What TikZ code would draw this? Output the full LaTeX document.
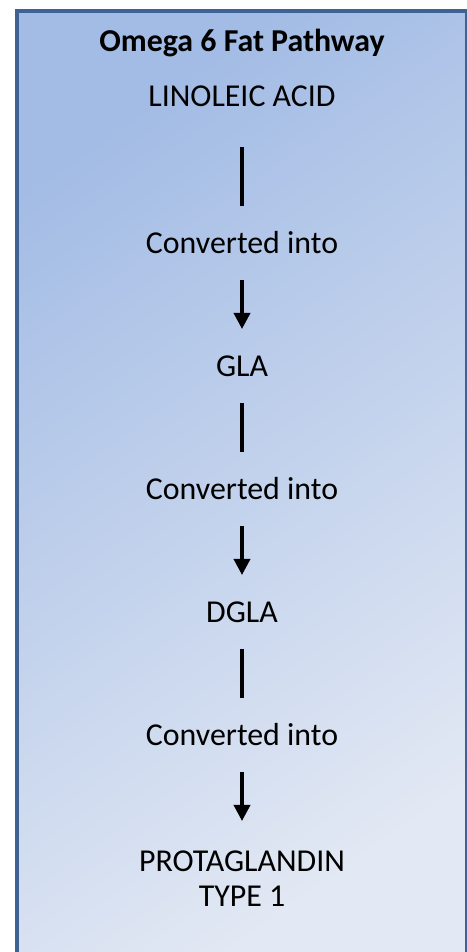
\documentclass[tikz,border=0pt]{standalone}
\usepackage{fontspec}
\setmainfont{Carlito}
\usetikzlibrary{arrows.meta}
\definecolor{boxedge}{HTML}{3D6293}
\definecolor{fillhi}{HTML}{A3BCE5}
\definecolor{filllo}{HTML}{E3E9F4}
\begin{document}
\begin{tikzpicture}[x=1bp,y=1bp,
    stage/.style={anchor=base,inner sep=0pt,font=\fontsize{32}{35}\selectfont},
    stem/.style={line width=3.5bp,shorten <=26bp,shorten >=48bp},
    conv/.style={stem,-{Triangle[width=16bp,length=16bp]}}]
  \useasboundingbox (0,0) rectangle (467,952);
  \shade[top color=fillhi,bottom color=filllo,shading angle=35] (17,-30) rectangle (467,941);
  \draw[boxedge,line width=4bp] (17,-30) rectangle (467,941);

  \node[stage,font=\fontsize{32}{35}\selectfont\bfseries] (title) at (242,900) {Omega 6 Fat Pathway};
  \node[stage] (lin) at (242,845) {LINOLEIC ACID};
  \node[stage] (conva) at (242,698) {Converted into};
  \node[stage] (gla) at (242,575) {GLA};
  \node[stage] (convb) at (242,452) {Converted into};
  \node[stage] (dgla) at (242,329) {DGLA};
  \node[stage] (convc) at (242,206) {Converted into};
  \node[stage] (prot) at (242,80) {PROTAGLANDIN};
  \node[stage] (type) at (242,45) {TYPE 1};

  \draw[stem,shorten <=40bp] (lin.base) -- (conva.base);
  \draw[conv] (conva.base) -- (gla.base);
  \draw[stem] (gla.base) -- (convb.base);
  \draw[conv] (convb.base) -- (dgla.base);
  \draw[stem] (dgla.base) -- (convc.base);
  \draw[conv,shorten >=51bp] (convc.base) -- (prot.base);
\end{tikzpicture}
\end{document}
